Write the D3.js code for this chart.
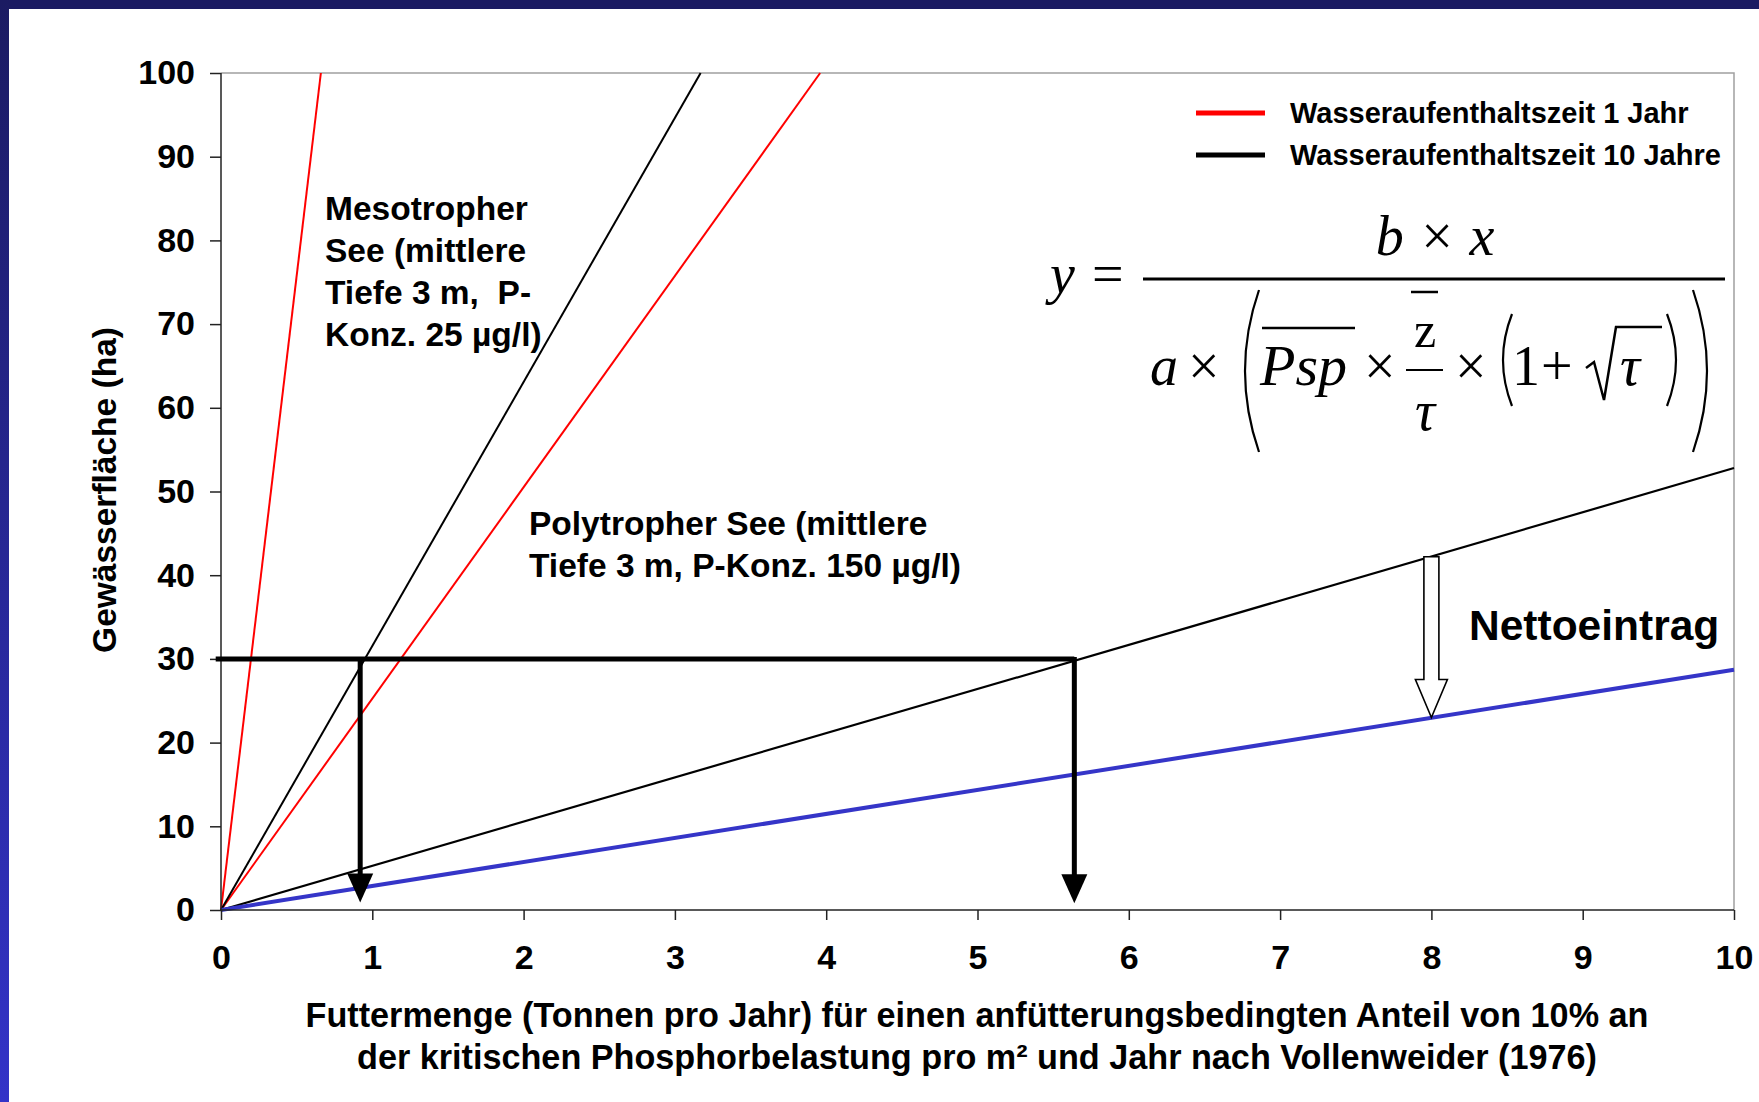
<!DOCTYPE html>
<html>
<head>
<meta charset="utf-8">
<title>Futtermenge und Gewässerfläche</title>
<script src="https://d3js.org/d3.v7.min.js"></script>
<style>
  body { margin: 0; background: #fff; }
  svg { display: block; }
  text { font-family: "Liberation Sans", Arial, sans-serif; font-weight: bold; fill: #000; }
  .math { font-family: "Liberation Serif", "Times New Roman", serif; font-weight: normal; }
</style>
</head>
<body>
<svg id="chart" width="1759" height="1102"></svg>
<script>
// ticks
var xTicks = [0, 1, 2, 3, 4, 5, 6, 7, 8, 9, 10];
var yTicks = [0, 10, 20, 30, 40, 50, 60, 70, 80, 90, 100];

// series (x in t/Jahr, y in ha)
var mesoJahr1 = [[0, 0], [0.66, 100]];
var mesoJahre10 = [[0, 0], [3.17, 100]];
var polyJahr1 = [[0, 0], [3.96, 100]];
var polyJahre10 = [[0, 0], [10, 52.8]];
var nettoLine = [[0, 0], [10, 28.7]];

// help lines / arrows
var hilfsLinie = [[-0.035, 30], [5.64, 30]];
var pfeile = [[0.92, 30, 0.9], [5.64, 30, 0.8]];   // x, von y, bis y
var nettoPfeil = [8.0, 42.2, 23.0];

var legendNames = ["Wasseraufenthaltszeit 1 Jahr", "Wasseraufenthaltszeit 10 Jahre"];
var legendColors = ["#ff0000", "#000000"];

var mesoText = ["Mesotropher", "See (mittlere", "Tiefe 3 m,  P-", "Konz. 25 µg/l)"];
var polyText = ["Polytropher See (mittlere", "Tiefe 3 m, P-Konz. 150 µg/l)"];
var xTitle = ["Futtermenge (Tonnen pro Jahr) für einen anfütterungsbedingten Anteil von 10% an",
              "der kritischen Phosphorbelastung pro m² und Jahr nach Vollenweider (1976)"];
var yTitle = "Gewässerfläche (ha)";

var svg = d3.select("#chart");

// frame of the slide
var defs = svg.append("defs");
var grad = defs.append("linearGradient").attr("id", "leftband")
    .attr("x1", 0).attr("y1", 0).attr("x2", 0).attr("y2", 1);
grad.append("stop").attr("offset", "0%").attr("stop-color", "#1b1b62");
grad.append("stop").attr("offset", "100%").attr("stop-color", "#3333c8");
svg.append("rect").attr("x", 0).attr("y", 0).attr("width", 1759).attr("height", 9).attr("fill", "#1b1b62");
svg.append("rect").attr("x", 0).attr("y", 0).attr("width", 9).attr("height", 1102).attr("fill", "url(#leftband)");

var pLeft = 221, pRight = 1734, pTop = 73, pBottom = 910;
var x = d3.scaleLinear().domain([0, 10]).range([pLeft, pRight]);
var y = d3.scaleLinear().domain([0, 100]).range([pBottom, pTop]);

// top and right border
svg.append("path")
    .attr("d", "M" + pLeft + "," + pTop + "H" + pRight + "V" + pBottom)
    .attr("fill", "none").attr("stroke", "#a0a0a0").attr("stroke-width", 1.5);

var line = d3.line().x(d => x(d[0])).y(d => y(d[1]));

function drawSeries(data, color, width) {
    svg.append("path").datum(data).attr("d", line)
        .attr("fill", "none").attr("stroke", color).attr("stroke-width", width);
}
drawSeries(mesoJahr1, "#ff0000", 2);
drawSeries(polyJahr1, "#ff0000", 2);
drawSeries(mesoJahre10, "#000", 2);
drawSeries(polyJahre10, "#000", 2.2);
drawSeries(nettoLine, "#3535c8", 4);

// axes
var yAxis = svg.append("g").attr("transform", "translate(" + pLeft + ",0)")
    .call(d3.axisLeft(y).tickValues(yTicks).tickSize(11).tickPadding(15).tickFormat(d3.format("d")));
var xAxis = svg.append("g").attr("transform", "translate(0," + pBottom + ")")
    .call(d3.axisBottom(x).tickValues(xTicks).tickSize(10).tickPadding(25).tickFormat(d3.format("d")));
[xAxis, yAxis].forEach(function (a) {
    a.select(".domain").attr("stroke", "#222").attr("stroke-width", 1.5);
    a.selectAll(".tick line").attr("stroke", "#222").attr("stroke-width", 1.5);
    a.selectAll(".tick text").attr("font-size", 34).attr("fill", "#000")
        .style("font-family", '"Liberation Sans", Arial, sans-serif').style("font-weight", "bold");
});
yAxis.select(".domain").attr("d", "M0," + pBottom + "V" + pTop);
xAxis.select(".domain").attr("d", "M" + pLeft + ",0H" + pRight);

// help line at 30 ha and arrows
svg.append("path").datum(hilfsLinie).attr("d", line)
    .attr("fill", "none").attr("stroke", "#000").attr("stroke-width", 5);
pfeile.forEach(function (p) {
    var px = x(p[0]), y0 = y(p[1]), y1 = y(p[2]);
    svg.append("line").attr("x1", px).attr("x2", px).attr("y1", y0 - 2).attr("y2", y1 - 20)
        .attr("stroke", "#000").attr("stroke-width", 5);
    svg.append("path")
        .attr("d", "M" + (px - 13) + "," + (y1 - 29) + "L" + (px + 13) + "," + (y1 - 29) + "L" + px + "," + y1 + "Z")
        .attr("fill", "#000");
});

// open arrow "Nettoeintrag"
(function () {
    var px = x(nettoPfeil[0]), yt = y(nettoPfeil[1]), yb = y(nettoPfeil[2]);
    var hh = 38, sw = 7.5, hw = 16;
    svg.append("path")
        .attr("d", "M" + (px - sw) + "," + yt + "H" + (px + sw) + "V" + (yb - hh) + "H" + (px + hw) +
              "L" + px + "," + yb + "L" + (px - hw) + "," + (yb - hh) + "H" + (px - sw) + "Z")
        .attr("fill", "#fff").attr("stroke", "#000").attr("stroke-width", 1.6);
})();
svg.append("text").attr("x", 1469).attr("y", 640).attr("font-size", 42.5).text("Nettoeintrag");

// legend
legendNames.forEach(function (n, i) {
    var ly = 113 + i * 42;
    svg.append("line").attr("x1", 1196).attr("x2", 1265).attr("y1", ly).attr("y2", ly)
        .attr("stroke", legendColors[i]).attr("stroke-width", 5);
    svg.append("text").attr("x", 1290).attr("y", ly + 10).attr("font-size", 29).text(n);
});

// annotations
mesoText.forEach(function (t, i) {
    svg.append("text").attr("x", 325).attr("y", 220 + i * 42).attr("font-size", 33.5)
        .attr("xml:space", "preserve").text(t);
});
polyText.forEach(function (t, i) {
    svg.append("text").attr("x", 529).attr("y", 535 + i * 42).attr("font-size", 33.5).text(t);
});

// axis titles
xTitle.forEach(function (t, i) {
    svg.append("text").attr("x", 977).attr("y", 1027 + i * 42).attr("text-anchor", "middle")
        .attr("font-size", 34.2).text(t);
});
svg.append("text").attr("transform", "translate(116,490) rotate(-90)")
    .attr("text-anchor", "middle").attr("font-size", 33.5).text(yTitle);

// formula
var f = svg.append("g").attr("class", "formula");
function mt(tx, ty, s, size, italic, anchor) {
    f.append("text").attr("class", "math").attr("x", tx).attr("y", ty)
        .attr("font-size", size || 56).attr("font-style", italic ? "italic" : "normal")
        .attr("text-anchor", anchor || "start").style("font-weight", "normal").text(s);
}
function ml(x1, y1, x2, y2, w) {
    f.append("line").attr("x1", x1).attr("y1", y1).attr("x2", x2).attr("y2", y2)
        .attr("stroke", "#000").attr("stroke-width", w || 2.5);
}
function paren(px, y1, y2, dir, w) {
    var bulge = dir * w;
    f.append("path")
        .attr("d", "M" + px + "," + y1 + "Q" + (px - bulge * 2) + "," + ((y1 + y2) / 2) + " " + px + "," + y2)
        .attr("fill", "none").attr("stroke", "#000").attr("stroke-width", 2.2);
}
mt(1050, 293, "y", 56, true);
mt(1092, 293, "=", 56);
mt(1435, 255, "b × x", 56, true, "middle");
ml(1143, 279, 1725, 279, 3);
mt(1150, 385, "a", 56, true);
mt(1188, 385, "×", 56);
paren(1259, 290, 452, 1, 14);
mt(1260, 385, "Psp", 58, true);
ml(1262, 328, 1355, 328, 2.5);
mt(1364, 385, "×", 56);
mt(1425, 347, "z", 50, false, "middle");
ml(1411, 292, 1438, 292, 2.5);
ml(1406, 370, 1443, 370, 2.2);
mt(1425, 430, "τ", 56, true, "middle");
mt(1455, 385, "×", 56);
paren(1512, 314, 406, 1, 9);
mt(1512, 385, "1", 56);
mt(1541, 385, "+", 56);
f.append("path").attr("d", "M1586,368 L1594,362 L1604,400 L1616,327 H1662")
    .attr("fill", "none").attr("stroke", "#000").attr("stroke-width", 2.5);
mt(1620, 385, "τ", 56, true);
paren(1667, 314, 406, -1, 9);
paren(1693, 290, 452, -1, 14);
</script>
</body>
</html>
